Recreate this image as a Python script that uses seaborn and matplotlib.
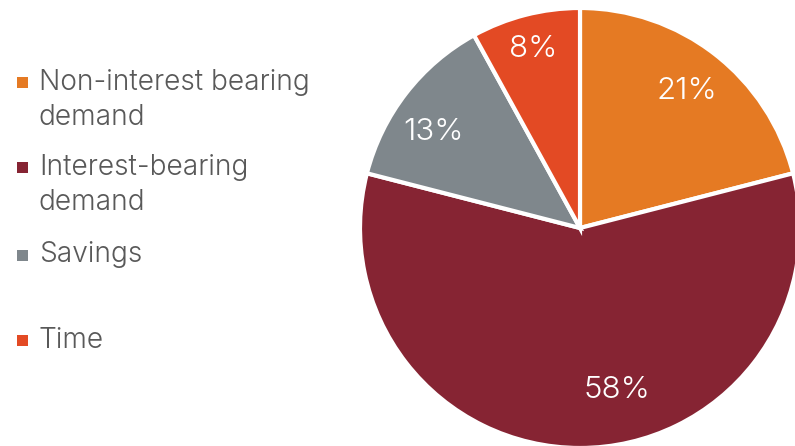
import matplotlib
matplotlib.use("Agg")
import matplotlib.pyplot as plt
import seaborn as sns
from matplotlib.patches import Rectangle

categories = ["Non-interest bearing\ndemand", "Interest-bearing\ndemand", "Savings", "Time"]
values = [21, 58, 13, 8]
colors_hex = ["#E57A23", "#862433", "#7F878C", "#E34A24"]

sns.set_style("white")
plt.rcParams["font.family"] = ["Inter", "DejaVu Sans"]

palette = sns.color_palette(colors_hex)

W, H = 795, 446
fig = plt.figure(figsize=(W / 100, H / 100), dpi=100)

# pie axes: center (580, 228) px from top, radius 220 px
cx, cy, R = 580, 228, 220
ax = fig.add_axes([(cx - R) / W, (H - cy - R) / H, 2 * R / W, 2 * R / H])
wedges, texts, autotexts = ax.pie(
    values, colors=palette, startangle=90, counterclock=False,
    autopct=lambda p: f"{p:.0f}%", pctdistance=0.79,
    wedgeprops=dict(edgecolor="white", linewidth=3),
    textprops=dict(color="white", fontsize=22.5, fontweight=300),
)
ax.set_xlim(-1, 1)
ax.set_ylim(-1, 1)
ax.set_aspect("auto")
ax.axis("off")

# small nudges of label positions (in units of radius)
nudges = [(0.0, 0.0), (0.17, 0.055), (-0.04, -0.05), (-0.015, 0.05)]
for t, (dx, dy) in zip(autotexts, nudges):
    x, y = t.get_position()
    t.set_position((x + dx, y + dy))

# manual legend
text_color = "#595959"
marker_centers = [82, 167.5, 255, 340.5]
sq = 11
for lab, col, my in zip(categories, palette, marker_centers):
    fig.patches.append(Rectangle(((22.5 - sq / 2) / W, (H - my - sq / 2) / H), sq / W, sq / H,
                                 transform=fig.transFigure, facecolor=col, edgecolor="none"))
    lines = lab.split("\n")
    for i, line in enumerate(lines):
        base = my + 7.5 + i * 35.5
        fig.text(39 / W, (H - base) / H, line, fontsize=20.2, color=text_color,
                 ha="left", va="baseline", fontweight=300)

fig.savefig("out.png", dpi=100)
